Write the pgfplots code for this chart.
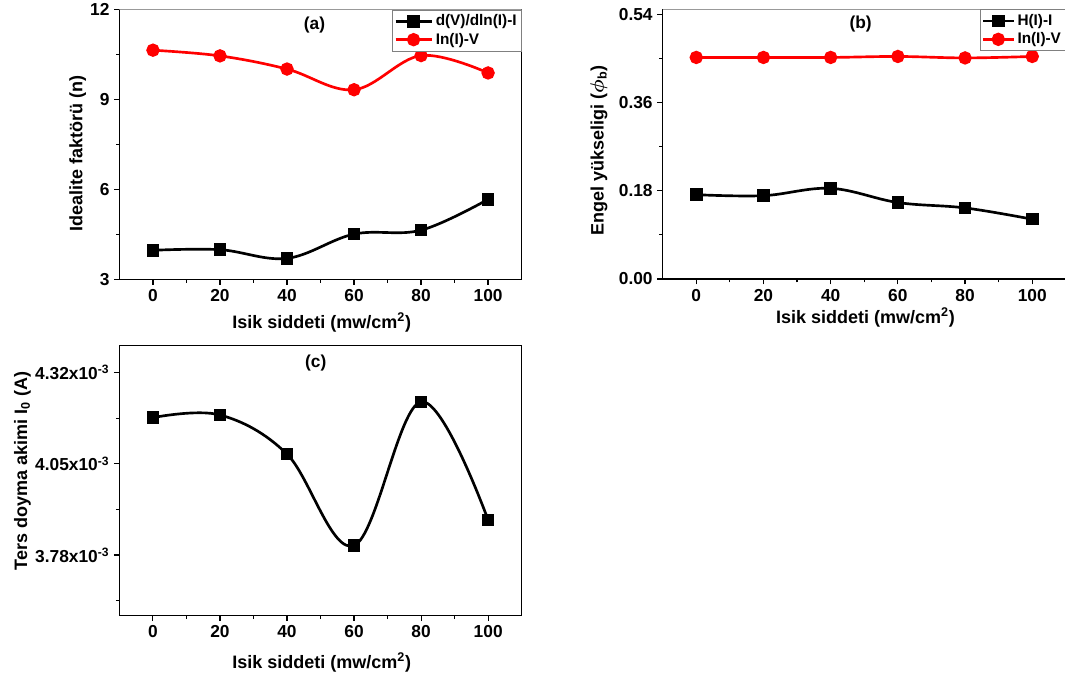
\documentclass[border=0pt]{standalone}
\usepackage{fontspec}
\setmainfont{Liberation Sans}
\usepackage{pgfplots}
\pgfplotsset{compat=1.18}

\tikzset{lbl/.style={font=\fontsize{13.5}{16}\selectfont\bfseries, anchor=center}}
\pgfplotsset{
  myaxis/.style={
    scale only axis,
    xmin=-10, xmax=110,
    xtick={0,20,40,60,80,100},
    xticklabels={0,20,40,60,80,100},
    minor x tick num=1,
    tick align=outside,
    xtick pos=bottom, ytick pos=left,
    major tick length=4pt, minor tick length=2.5pt,
    every tick/.style={black, line width=0.9pt},
    axis line style={line width=0.9pt},
    ticklabel style={font=\fontsize{13}{15}\selectfont\bfseries},
    /pgf/number format/assume math mode=true,
    legend style={draw=gray, fill=white, font=\fontsize{11.5}{13.5}\selectfont\bfseries,
      at={(1,1)}, anchor=north east, inner sep=1.5pt, row sep=0pt},
    legend cell align=left,
  },
  blk/.style={black, line width=2pt, smooth, tension=0.6, mark=square*, mark size=3.7pt, mark options={solid}},
  rd/.style={red, line width=2pt, smooth, tension=0.6, mark=*, mark size=4pt, mark options={solid}},
}

\begin{document}
\begin{tikzpicture}
\useasboundingbox (0pt,0pt) rectangle (798.75pt,-510.75pt);

% (a)
\begin{axis}[myaxis,
  at={(89.6pt,-209.5pt)}, anchor=south west,
  width=301.6pt, height=202.2pt,
  ymin=3, ymax=12, ytick={3,6,9,12}, minor y tick num=1,
  yticklabels={3,6,9,12},
  xlabel={Isik siddeti (mw/cm\textsuperscript{2})},
  ylabel={Idealite faktörü (n)},
  every axis x label/.style={lbl, at={(axis description cs:0.503,-0.16)}},
  every axis y label/.style={lbl, at={(axis description cs:-0.104,0.467)}, rotate=90},
  legend image code/.code={\draw[mark repeat=2,mark phase=2] plot coordinates {(0cm,0cm) (0.47cm,0cm) (0.95cm,0cm)};},
]
\addplot[blk] coordinates {(0,3.97) (20,3.99) (40,3.70) (60,4.51) (80,4.64) (100,5.67)};
\addlegendentry{d(V)/dln(I)-I}
\addplot[rd] coordinates {(0,10.65) (20,10.46) (40,10.02) (60,9.33) (80,10.47) (100,9.89)};
\addlegendentry{In(I)-V}
\draw[gray!80, line width=0.9pt] (rel axis cs:0,1) -- (rel axis cs:1,1);
\node[font=\fontsize{13}{15}\selectfont\bfseries] at (rel axis cs:0.485,0.943) {(a)};
\end{axis}

% (b)
\begin{axis}[myaxis,
  at={(497pt,-209.25pt)}, anchor=south west,
  width=302.4pt, height=202.2pt,
  ymin=0, ymax=0.55, ytick={0,0.18,0.36,0.54}, minor y tick num=1,
  yticklabels={0.00,0.18,0.36,0.54},
  xlabel={Isik siddeti (mw/cm\textsuperscript{2})},
  ylabel={Engel yükseligi ({\boldmath$\phi$}\textsubscript{b})},
  every axis x label/.style={lbl, at={(axis description cs:0.503,-0.142)}},
  every axis y label/.style={lbl, at={(axis description cs:-0.158,0.476)}, rotate=90},
  legend image code/.code={\draw[mark repeat=2,mark phase=2] plot coordinates {(0cm,0cm) (0.4cm,0cm) (0.8cm,0cm)};},
]
\addplot[blk] coordinates {(0,0.172) (20,0.170) (40,0.185) (60,0.156) (80,0.145) (100,0.122)};
\addlegendentry{H(I)-I}
\addplot[rd] coordinates {(0,0.452) (20,0.452) (40,0.452) (60,0.454) (80,0.451) (100,0.454)};
\addlegendentry{In(I)-V}
\draw[gray!80, line width=0.9pt] (rel axis cs:0,1) -- (rel axis cs:1,1);
\node[font=\fontsize{13}{15}\selectfont\bfseries] at (rel axis cs:0.491,0.946) {(b)};
\end{axis}

% (c)
\begin{axis}[myaxis,
  at={(89.5pt,-461.8pt)}, anchor=south west,
  width=301.8pt, height=202.5pt,
  ymin=3.60, ymax=4.40, ytick={3.78,4.05,4.32},
  minor ytick={3.645,3.915,4.185},
  yticklabels={3.78x10\textsuperscript{-3}, 4.05x10\textsuperscript{-3}, 4.32x10\textsuperscript{-3}},
  xlabel={Isik siddeti (mw/cm\textsuperscript{2})},
  ylabel={Ters doyma akimi I\textsubscript{0} (A)},
  every axis x label/.style={lbl, at={(axis description cs:0.503,-0.172)}},
  every axis y label/.style={lbl, at={(axis description cs:-0.241,0.536)}, rotate=90},
]
\addplot[blk] coordinates {(0,4.187) (20,4.195) (40,4.079) (60,3.808) (80,4.234) (100,3.883)};
\node[font=\fontsize{13}{15}\selectfont\bfseries] at (rel axis cs:0.488,0.935) {(c)};
\end{axis}
\end{tikzpicture}
\end{document}
